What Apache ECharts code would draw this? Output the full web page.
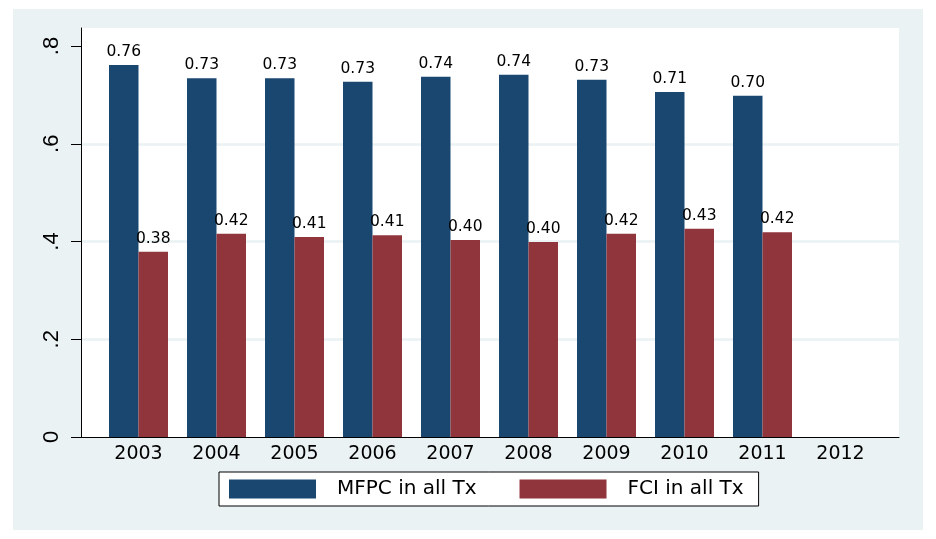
<!DOCTYPE html>
<html>
<head>
<meta charset="utf-8">
<script src="https://cdn.jsdelivr.net/npm/echarts@6/dist/echarts.min.js"></script>
<style>
html,body{margin:0;padding:0;background:#fff;}
#wrap{position:relative;width:936px;height:539px;}
#bg{position:absolute;left:13px;top:9px;width:910px;height:521px;background:#EAF2F3;}
#chart{position:absolute;left:0;top:0;width:936px;height:539px;}
</style>
</head>
<body>
<div id="wrap"><div id="bg"></div><div id="chart"></div></div>
<script>
const years = ['2003','2004','2005','2006','2007','2008','2009','2010','2011','2012'];
const mfpc = [0.761, 0.734, 0.734, 0.727, 0.737, 0.741, 0.731, 0.706, 0.698, null];
const fci  = [0.379, 0.416, 0.409, 0.413, 0.403, 0.399, 0.416, 0.426, 0.419, null];
const yTicks = [0, 0.2, 0.4, 0.6, 0.8];
const seriesNames = ['MFPC in all Tx', 'FCI in all Tx'];

const yMax = 0.83683;
const chart = echarts.init(document.getElementById('chart'), null, {renderer: 'canvas'});
const labelFont = 'DejaVu Sans';
const option = {
  animation: false,
  backgroundColor: 'transparent',
  grid: [
    {left: 99.5, width: 780, top: 28, height: 409},
    {left: 81, width: 818, top: 28, height: 409, show: true, backgroundColor: '#ffffff', borderWidth: 0, z: -1}
  ],
  xAxis: [
    {type: 'category', gridIndex: 0, data: years,
     axisLine: {show: false}, axisTick: {show: false},
     axisLabel: {color: '#000', fontFamily: labelFont, fontSize: 19, margin: 8}},
    {type: 'value', gridIndex: 1, min: 0, max: 1,
     axisLine: {show: true, lineStyle: {color: '#000', width: 1}},
     axisTick: {show: false}, axisLabel: {show: false}, splitLine: {show: false}}
  ],
  yAxis: [
    {type: 'value', gridIndex: 0, min: 0, max: yMax, show: false, splitLine: {show: false}},
    {type: 'value', gridIndex: 1, min: 0, max: yMax, interval: 0.2,
     axisLine: {show: true, lineStyle: {color: '#000', width: 1}},
     axisTick: {show: true, length: 10, lineStyle: {color: '#000', width: 1}, customValues: yTicks},
     axisLabel: {rotate: 90, margin: 18, color: '#000', fontFamily: 'Liberation Sans', fontSize: 22,
       customValues: yTicks,
       formatter: function (v) { return v === 0 ? '0' : String(+v.toFixed(1)).replace('0.', '.'); }},
     splitLine: {show: true, showMinLine: false, showMaxLine: false, lineStyle: {color: '#EAF2F3', width: 2.5}}}
  ],
  legend: {
    left: 219, top: 472,
    backgroundColor: '#ffffff', borderColor: '#000', borderWidth: 1,
    padding: [7, 15, 7, 10],
    itemWidth: 87, itemHeight: 19, itemGap: 43,
    icon: 'rect',
    textStyle: {color: '#000', fontFamily: labelFont, fontSize: 20, padding: [0, 0, 0, 16]},
    data: seriesNames
  },
  series: [
    {name: seriesNames[0], type: 'bar', xAxisIndex: 0, yAxisIndex: 0, data: mfpc,
     barWidth: 29.5, barGap: '0%', itemStyle: {color: '#1A476F'},
     label: {show: true, position: 'top', distance: 5, color: '#000', fontFamily: labelFont, fontSize: 15.5,
       formatter: function (p) { return p.value == null ? '' : p.value.toFixed(2); }}},
    {name: seriesNames[1], type: 'bar', xAxisIndex: 0, yAxisIndex: 0, data: fci,
     barWidth: 29.5, barGap: '0%', itemStyle: {color: '#90353B'},
     label: {show: true, position: 'top', distance: 5, color: '#000', fontFamily: labelFont, fontSize: 15.5,
       formatter: function (p) { return p.value == null ? '' : p.value.toFixed(2); }}}
  ]
};
chart.setOption(option);
</script>
</body>
</html>
